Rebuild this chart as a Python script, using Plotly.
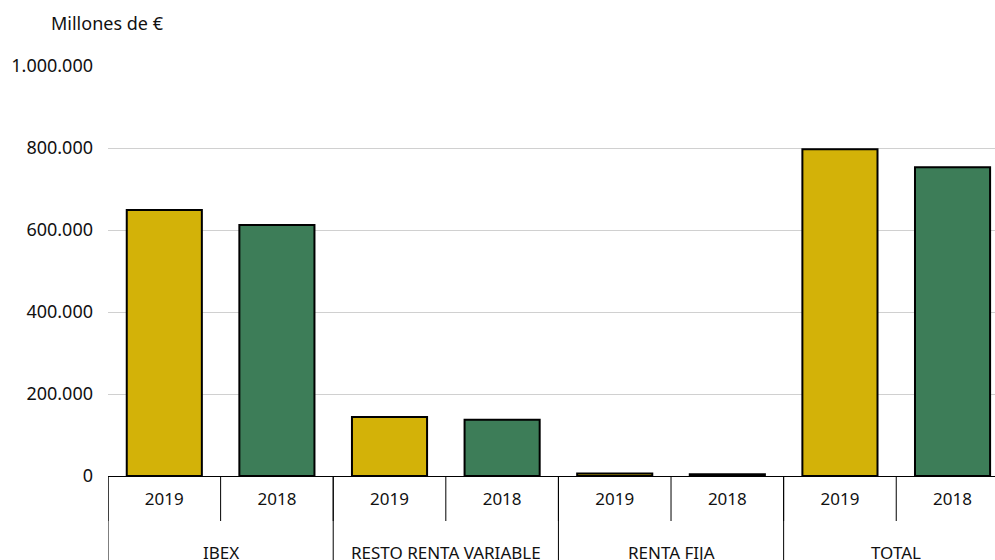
import plotly.graph_objects as go

groups = ["IBEX", "RESTO RENTA VARIABLE", "RENTA FIJA", "TOTAL"]
years = ["2019", "2018"]
values_2019 = [649000, 144000, 6000, 797000]
values_2018 = [612000, 137000, 4000, 753000]
y_ticks = [0, 200000, 400000, 600000, 800000, 1000000]
y_tick_labels = ["0", "200.000", "400.000", "600.000", "800.000", "1.000.000"]
year_colors = {"2019": "#D3B208", "2018": "#3D7D58"}

cats, vals, cols, labels = [], [], [], []
for i, g in enumerate(groups):
    for y, v in zip(years, [values_2019[i], values_2018[i]]):
        cats.append(f"{g}|{y}")
        vals.append(v)
        cols.append(year_colors[y])
        labels.append(y)

FONT = "Noto Sans"
PLOT_H = 410
PLOT_W = 887
fig = go.Figure()
fig.add_trace(go.Bar(
    x=cats, y=vals,
    marker=dict(color=cols, line=dict(color="#000000", width=2)),
    showlegend=False, hoverinfo="skip",
))

n = len(cats)
shapes = []
annotations = []
# boundaries between every category (short) and between groups (long)
for k in range(n):
    shapes.append(dict(type="line", xref="x", yref="paper",
                       x0=k - 0.5, x1=k - 0.5, y0=0, y1=-45 / PLOT_H,
                       line=dict(color="#000000", width=1)))
start = 0
for g in groups:
    size = len(years)
    shapes.append(dict(type="line", xref="x", yref="paper",
                       x0=start - 0.5, x1=start - 0.5, y0=0, y1=-0.3,
                       line=dict(color="#000000", width=1)))
    annotations.append(dict(x=start + (size - 1) / 2, xref="x", y=-76 / PLOT_H, yref="paper",
                            text=g, showarrow=False, xanchor="center", yanchor="middle",
                            font=dict(family=FONT, size=17, color="#111111")))
    start += size

annotations.append(dict(x=-59 / PLOT_W, xref="paper", y=1 + 43 / PLOT_H, yref="paper",
                        text="Millones de €",
                        showarrow=False, xanchor="left", yanchor="middle",
                        font=dict(family=FONT, size=18, color="#111111")))

fig.update_layout(
    width=995, height=560,
    margin=dict(l=108, r=0, t=66, b=84),
    paper_bgcolor="white", plot_bgcolor="white",
    bargap=0.333,
    shapes=shapes, annotations=annotations,
    xaxis=dict(type="category", categoryorder="array", categoryarray=cats,
               tickvals=cats, ticktext=labels,
               ticks="", ticklabelstandoff=8,
               range=[-0.5, n - 0.5 - 0.123],
               showline=True, linecolor="#000000", linewidth=1,
               showgrid=False,
               tickfont=dict(family=FONT, size=17, color="#111111")),
    yaxis=dict(range=[0, 1000000], tickvals=y_ticks, ticktext=y_tick_labels,
               showgrid=True, gridcolor="#D0D0D0", gridwidth=1,
               zeroline=False, showline=False, ticks="",
               ticklabelstandoff=14,
               tickfont=dict(family=FONT, size=18, color="#111111")),
)

fig.write_html("out.html",
               config={"displayModeBar": False},
               post_script="document.body.style.margin='0';document.body.style.overflow='hidden';")
